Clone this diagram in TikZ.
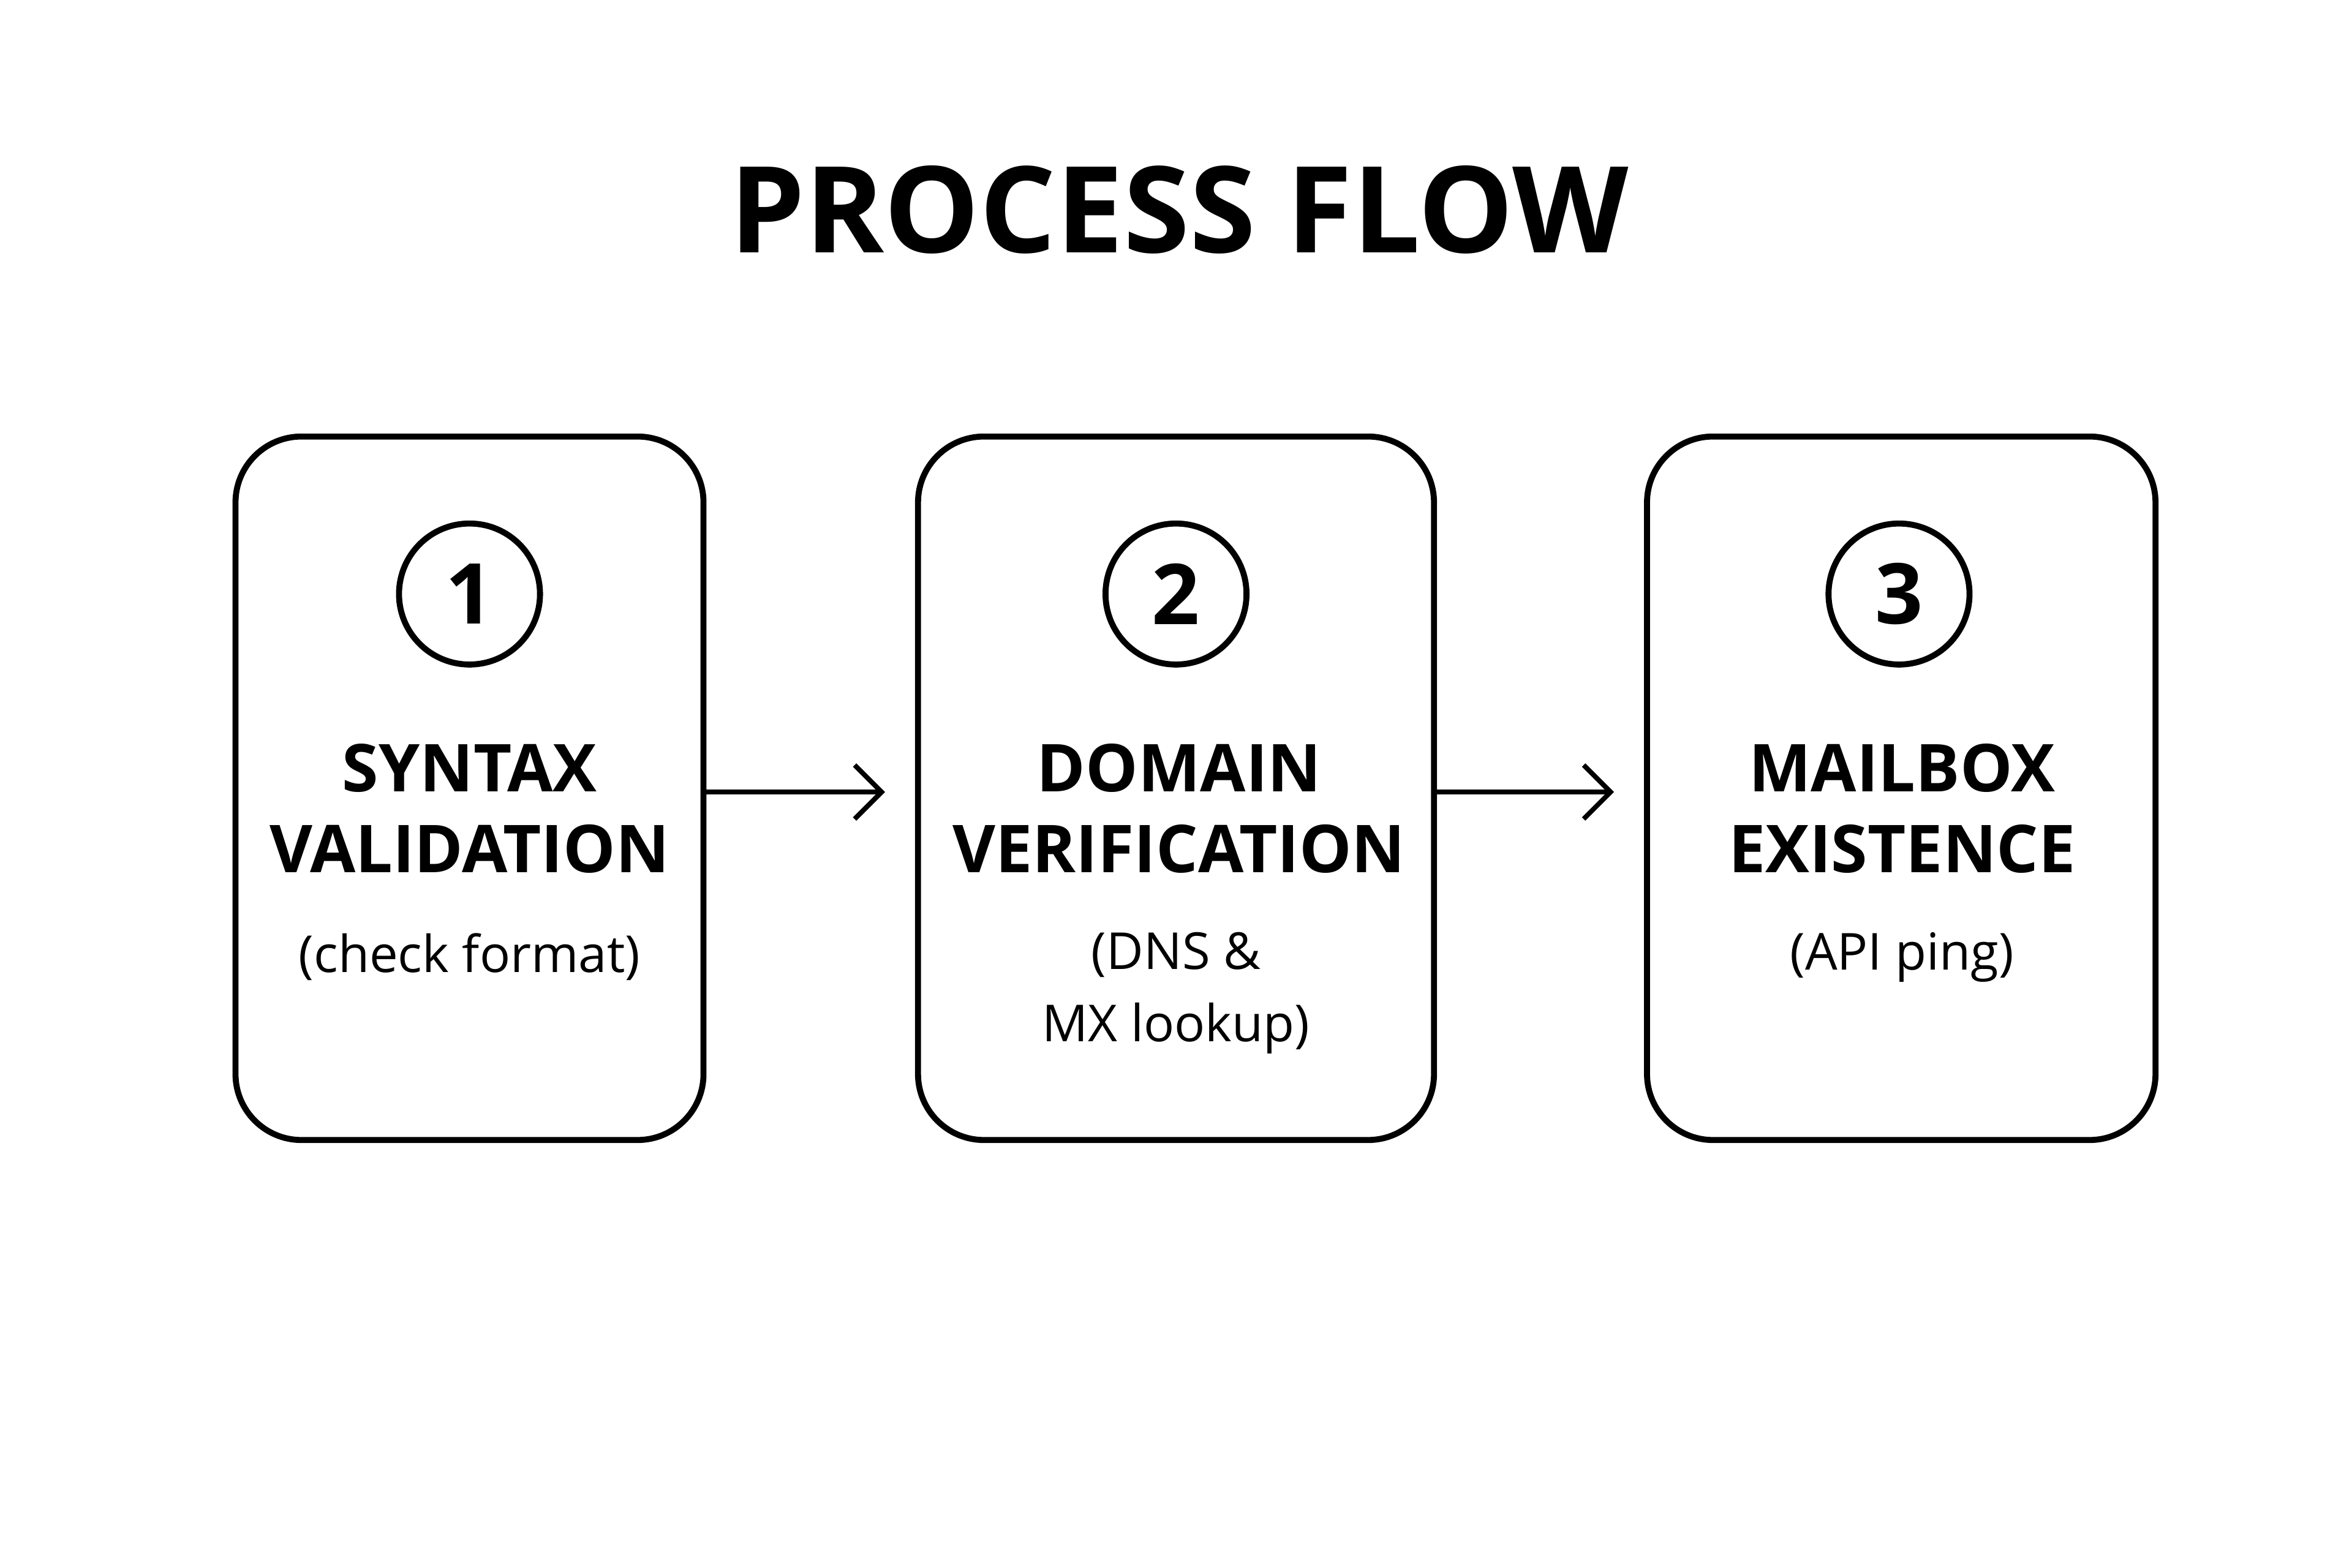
\documentclass[tikz,border=0pt]{standalone}
\usepackage{fontspec}
\setmainfont{Open Sans}
\usetikzlibrary{arrows.meta}
\begin{document}
\begin{tikzpicture}[x=0.5pt,y=-0.5pt,
  box/.style={draw,line width=2pt,rounded corners=22pt},
  num/.style={draw,circle,line width=2pt,minimum size=47pt,inner sep=0pt,font=\fontsize{28}{30}\selectfont\bfseries},
  lab/.style={align=center,font=\fontsize{22}{27}\selectfont\bfseries},
  sub/.style={align=center,font=\fontsize{17}{24}\selectfont},
  arr/.style={line width=1.6pt,-{Straight Barb[length=9pt,width=18pt,line width=1.6pt]}}]
\useasboundingbox[fill=white] (0,0) rectangle (1568,1045);
\node[font=\fontsize{40}{44}\selectfont\bfseries] (title) at (786,140) {PROCESS FLOW};
\draw[box] (157,291) rectangle (469,760);
\draw[box] (612,291) rectangle (956,760);
\draw[box] (1098,291) rectangle (1437,760);
\coordinate (b1r) at (469,528); \coordinate (b2l) at (590,528);
\coordinate (b2r) at (956,528); \coordinate (b3l) at (1076,528);
\node[num] (n1) at (313,396) {1};
\node[num] (n2) at (784,396) {2};
\node[num] (n3) at (1266,396) {3};
\node[lab] (l1) at (313,539) {SYNTAX\\VALIDATION};
\node[lab] (l2) at (786,539) {DOMAIN\\VERIFICATION};
\node[lab] (l3) at (1268,539) {MAILBOX\\EXISTENCE};
\node[sub] (s1) at (313,638) {(check format)};
\node[sub] (s2) at (784,662) {(DNS \&\\MX lookup)};
\node[sub] (s3) at (1268,638) {(API ping)};
\draw[arr] (b1r) -- (b2l);
\draw[arr] (b2r) -- (b3l);
\end{tikzpicture}
\end{document}
